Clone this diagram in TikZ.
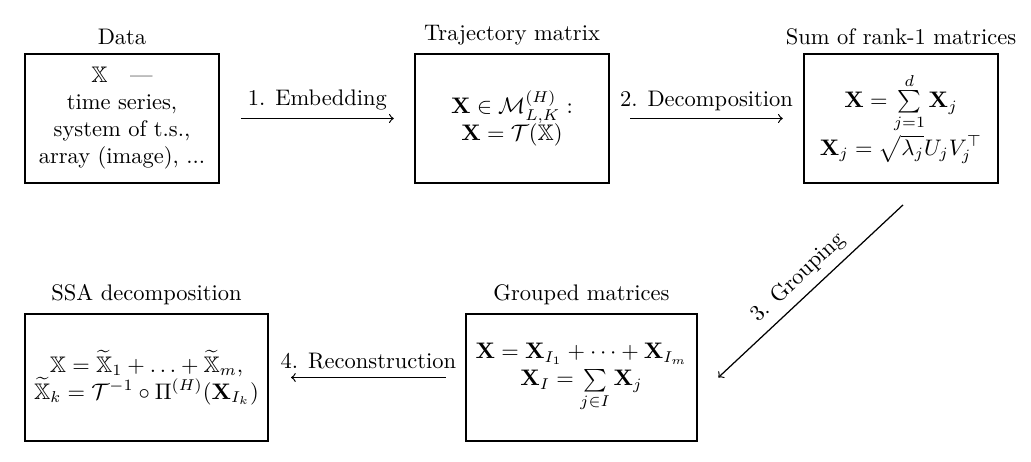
\documentclass[tikz,border=0pt]{standalone}
\usepackage{amsmath,amssymb}
\begin{document}
\begin{tikzpicture}[x=0.4444pt,y=-0.4444pt,
  box/.style={draw, line width=0.9pt, align=center, inner sep=2pt},
  conn/.style={->, line width=0.55pt}]
\useasboundingbox (0,0) rectangle (1031,462);
\node[box, minimum width=86.2pt, minimum height=57.3pt, label={above:Data}] (b1) at (122,118.5)
  {$\mathbb{X}$\quad---\\ time series,\\ system of t.s.,\\ array (image), ...};
\node[box, minimum width=86.2pt, minimum height=57.3pt, label={above:Trajectory matrix}] (b2) at (512,118.5)
  {$\mathbf{X}\in\mathcal{M}^{(H)}_{L,K}:$\\ $\mathbf{X}=\mathcal{T}(\mathbb{X})$};
\node[box, minimum width=86.2pt, minimum height=57.3pt, label={above:Sum of rank-1 matrices}] (b3) at (901,118.5)
  {$\mathbf{X}=\sum\limits_{j=1}^{d}\mathbf{X}_j$\\ $\mathbf{X}_j=\sqrt{\lambda_j}U_jV_j^{\top}$};
\node[box, minimum width=108pt, minimum height=56.4pt, label={above:SSA decomposition}] (b4) at (146.5,377.5)
  {$\mathbb{X}=\widetilde{\mathbb{X}}_1+\ldots+\widetilde{\mathbb{X}}_m,$\\ $\widetilde{\mathbb{X}}_k=\mathcal{T}^{-1}\circ\Pi^{(H)}(\mathbf{X}_{I_k})$};
\node[box, minimum width=102.7pt, minimum height=56.4pt, label={above:Grouped matrices}] (b5) at (581.5,377.5)
  {$\mathbf{X}=\mathbf{X}_{I_1}+\cdots+\mathbf{X}_{I_m}$\\ $\mathbf{X}_I=\sum\limits_{j\in I}\mathbf{X}_j$};
\draw[conn] ([xshift=9.3pt]b1.east) -- node[above]{1. Embedding} ([xshift=-9pt]b2.west);
\draw[conn] ([xshift=9pt]b2.east) -- node[above]{2. Decomposition} ([xshift=-9pt]b3.west);
\draw[conn] ([xshift=0.9pt,yshift=-9.3pt]b3.south) -- node[midway,above,sloped]{3. Grouping} ([xshift=9pt]b5.east);
\draw[conn] ([xshift=-8.5pt]b5.west) -- node[above]{4. Reconstruction} ([xshift=9.8pt]b4.east);
\end{tikzpicture}
\end{document}
